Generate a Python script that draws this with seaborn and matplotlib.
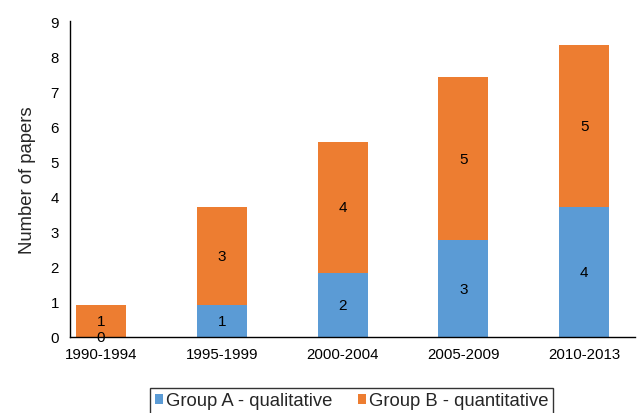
import matplotlib
matplotlib.use("Agg")
import matplotlib.pyplot as plt
from matplotlib.patches import Patch
import seaborn as sns

periods = ["1990-1994", "1995-1999", "2000-2004", "2005-2009", "2010-2013"]
group_a = [0.0, 0.92, 1.83, 2.76, 3.69]   # qualitative
group_b = [0.91, 2.78, 3.72, 4.64, 4.63]  # quantitative
totals = [a + b for a, b in zip(group_a, group_b)]

label_a = "Group A - qualitative"
label_b = "Group B - quantitative"
color_a = "#5B9BD5"
color_b = "#ED7D31"

sns.set_style("white")
plt.rcParams["font.family"] = ["Liberation Sans", "DejaVu Sans"]

fig = plt.figure(figsize=(6.4, 4.14), dpi=100)
ax = fig.add_axes([70 / 640, 76 / 414, 565 / 640, 316 / 414])

# Stacked bars: full totals in orange, qualitative part drawn over them in blue
sns.barplot(x=periods, y=totals, color=color_b, width=0.414, saturation=1,
            ax=ax, linewidth=0)
sns.barplot(x=periods, y=group_a, color=color_a, width=0.414, saturation=1,
            ax=ax, linewidth=0)

# Segment labels (rounded counts)
ax.bar_label(ax.containers[1], labels=[f"{v:.0f}" for v in group_a],
             label_type="center", fontsize=11, color="black")
for i, (a, b) in enumerate(zip(group_a, group_b)):
    ax.text(i, a + b / 2, f"{b:.0f}", ha="center", va="center",
            fontsize=11, color="black")

ax.set_xlim(-0.257, 4.42)
ax.set_ylim(0, 9)
ax.set_yticks(range(0, 10))
ax.set_ylabel("Number of papers", fontsize=13.3, labelpad=10)
ax.tick_params(axis="both", length=0, labelsize=10.8, colors="black")
ax.tick_params(axis="x", pad=7)
ax.tick_params(axis="y", pad=8)

for side in ["top", "right"]:
    ax.spines[side].set_visible(False)
for side in ["left", "bottom"]:
    ax.spines[side].set_color("black")
    ax.spines[side].set_linewidth(1.0)

handles = [Patch(facecolor=color_a, edgecolor="none", label=label_a),
           Patch(facecolor=color_b, edgecolor="none", label=label_b)]
leg = fig.legend(handles=handles, loc="center", bbox_to_anchor=(351.5 / 640, 12 / 414),
                 ncol=2, fontsize=13.3, frameon=True, fancybox=False,
                 handlelength=0.45, handleheight=0.45, handletextpad=0.15,
                 columnspacing=1.4, borderpad=0.25, borderaxespad=0)
leg.get_frame().set_edgecolor("black")
leg.get_frame().set_linewidth(1.0)

fig.savefig("out.png", dpi=100)
